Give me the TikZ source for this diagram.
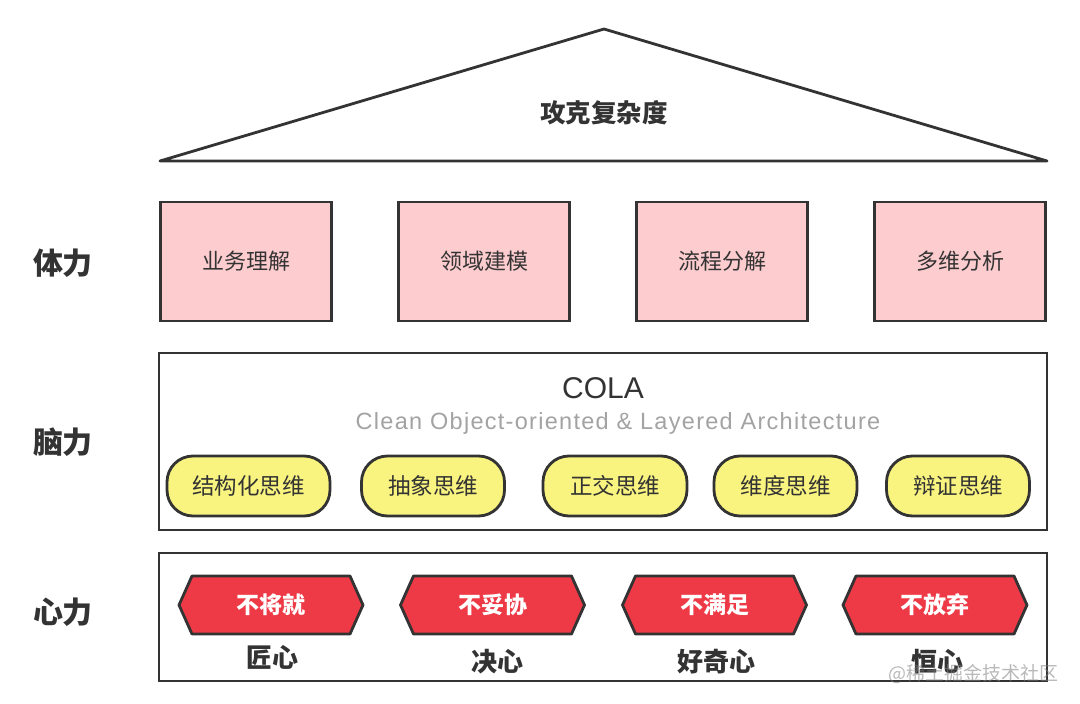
\documentclass[tikz,border=0pt]{standalone}
\usepackage{fontspec}
\setmainfont{Noto Sans CJK SC}
\newfontfamily\latinfont{Liberation Sans}
\newfontfamily\latinspaced{Liberation Sans}[LetterSpace=5.5]
\usetikzlibrary{positioning}
\definecolor{ink}{HTML}{333333}
\definecolor{pinkfill}{HTML}{FDCCCF}
\definecolor{yellowfill}{HTML}{F9F37F}
\definecolor{redfill}{HTML}{EE3A46}
\definecolor{subgray}{HTML}{A3A3A3}
\tikzset{
  frame/.style={draw=ink, line width=2.8pt},
  pinkbox/.style={frame, fill=pinkfill, minimum width=171pt, minimum height=119pt, inner sep=0pt, font=\fontsize{22}{25}\selectfont, text=ink},
  pill/.style={frame, fill=yellowfill, rounded corners=26pt, minimum height=60pt, inner sep=0pt, font=\fontsize{22.5}{25}\selectfont, text=ink},
  hexshape/.style={frame, fill=redfill, line join=round},
  hextext/.style={font=\bfseries\fontsize{23}{26}\selectfont, text=white, inner sep=0pt},
  undertext/.style={font=\bfseries\fontsize{26}{29}\selectfont, text=ink, inner sep=0pt},
  sidetext/.style={font=\bfseries\fontsize{30}{33}\selectfont, text=ink, inner sep=0pt},
}
\begin{document}
\begin{tikzpicture}[x=1pt,y=-1pt]
\useasboundingbox (0,0) rectangle (1080,704);
\fill[white] (0,0) rectangle (1080,704);
% roof
\coordinate (apex) at (604,29);
\coordinate (bl) at (160,161);
\coordinate (br) at (1047,161);
\draw[frame, line join=round] (bl) -- (apex) -- (br) -- cycle;
\node[font=\bfseries\fontsize{25.5}{28}\selectfont, text=ink] (roof) at (604,113) {攻克复杂度};
% side labels
\node[sidetext] (tili) at (63,263) {体力};
\node[sidetext] (naoli) at (63,442) {脑力};
\node[sidetext] (xinli) at (63,612) {心力};
% pink boxes
\node[pinkbox] (b1) at (246,261.5) {业务理解};
\node[pinkbox] (b2) at (484,261.5) {领域建模};
\node[pinkbox] (b3) at (722,261.5) {流程分解};
\node[pinkbox] (b4) at (960,261.5) {多维分析};
% COLA frame
\draw[frame] (159,353) rectangle (1047,530);
\node[font=\latinfont\fontsize{30}{33}\selectfont, text=ink] (cola) at (603,388) {COLA};
\node[font=\latinspaced\fontsize{23.5}{26}\selectfont, text=subgray] (colasub) at (618,423) {Clean Object-oriented \& Layered Architecture};
\node[pill, minimum width=163pt] (p1) at (248.5,486) {结构化思维};
\node[pill, minimum width=143pt] (p2) at (433,486) {抽象思维};
\node[pill, minimum width=144pt] (p3) at (615,486) {正交思维};
\node[pill, minimum width=143pt] (p4) at (785.5,486) {维度思维};
\node[pill, minimum width=143pt] (p5) at (958,486) {辩证思维};
% heart frame
\draw[frame] (159,553) rectangle (1047,681);
\foreach \cx/\t/\lab/\lx/\ly [count=\i] in {271/不将就/匠心/272/657, 492.5/不妥协/决心/497/662, 714.5/不满足/好奇心/716/662, 935/不放弃/恒心/937/662} {
  \draw[hexshape] (\cx-92,605) -- (\cx-79,576) -- (\cx+79,576) -- (\cx+92,605) -- (\cx+79,634) -- (\cx-79,634) -- cycle;
  \node[hextext] (h\i) at (\cx,605) {\t};
  \node[undertext] (u\i) at (\lx,\ly) {\lab};
}
% watermark
\node[font=\fontsize{19}{22}\selectfont, text=gray, opacity=0.55, anchor=east] (wm) at (1062,674) {@稀土掘金技术社区};
\end{tikzpicture}
\end{document}
